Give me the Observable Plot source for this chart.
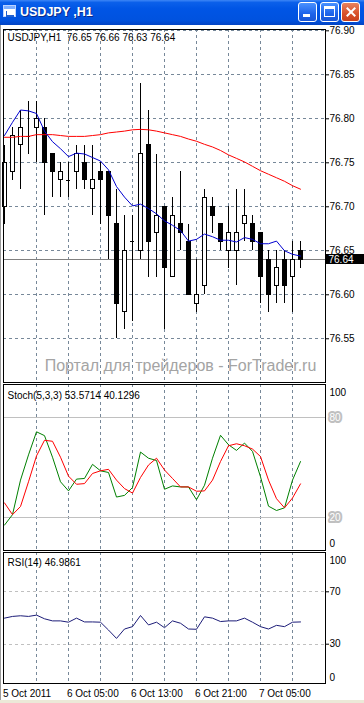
<!DOCTYPE html>
<html><head><meta charset="utf-8">
<script src="https://cdn.jsdelivr.net/npm/d3@7"></script>
<script src="https://cdn.jsdelivr.net/npm/@observablehq/plot@0.6"></script>
<style>
html,body{margin:0;padding:0;background:#fff;width:364px;height:703px;overflow:hidden;font-family:"Liberation Sans",Arial,sans-serif;}
#wrap{position:relative;width:364px;height:703px;}
#titlebar{position:absolute;left:0;top:0;width:364px;height:25px;background:linear-gradient(#3d86f6 0%,#0b60ea 10%,#0055e5 35%,#0052df 80%,#0344c4 100%);}
#ttl{position:absolute;left:20px;top:5px;color:#fff;font:bold 12.5px "Liberation Sans",Arial,sans-serif;text-shadow:1px 1px 0 #0a2a8a;white-space:pre;}
#icon{position:absolute;left:3px;top:5px;width:13px;height:12px;background:#fff;border:1px solid #bcd3ff;box-sizing:border-box;}
#icon .bar{position:absolute;left:0;top:0;width:11px;height:3px;background:#7fb0ff;}
#icon .c{position:absolute;left:2px;top:5px;width:7px;height:4px;border-bottom:2px solid #2060d0;border-left:1px solid #2060d0;}
.btn{position:absolute;top:2px;width:19px;height:20px;box-sizing:border-box;border:1px solid #fff;border-radius:3px;background:linear-gradient(#4a92ff,#1d63ea 60%,#1a56d6);}
#bmin{left:298px;} #bmax{left:320px;} #bcls{left:341px;background:linear-gradient(#e8835e,#d8502a 60%,#c8401c);}
#bmin i{position:absolute;left:4px;top:11px;width:7px;height:3px;background:#fff;}
#bmax i{position:absolute;left:3px;top:3px;width:11px;height:11px;box-sizing:border-box;border:1px solid #fff;border-top:3px solid #fff;}
#bcls i,#bcls b{position:absolute;left:8px;top:3px;width:2px;height:12px;background:#fff;}
#bcls i{transform:rotate(45deg);} #bcls b{transform:rotate(-45deg);}
#ledge{position:absolute;left:0;top:25px;width:1px;height:676px;background:#9a9a9a;}
#bstrip{position:absolute;left:0;top:700px;width:364px;height:3px;background:#ece9d8;}
svg{position:absolute;left:0;}
</style></head>
<body><div id="wrap">
<div id="titlebar"><div id="icon"><div class="bar"></div><div class="c"></div></div><div id="ttl">USDJPY ,H1</div>
<div class="btn" id="bmin"><i></i></div><div class="btn" id="bmax"><i></i></div><div class="btn" id="bcls"><i></i><b></b></div></div>
<div id="ledge"></div><div id="bstrip"></div>
</div>
<script>
// ---- data ----
const symbol = "USDJPY,H1";
const openP  = [76.70,76.74,76.77,76.78,76.79,76.79,76.76,76.73,76.73,76.74,76.75,76.72,76.74,76.74,76.68,76.58,76.66,76.65,76.77,76.67,76.70,76.62,76.68,76.66,76.59,76.61,76.70,76.68,76.65,76.65,76.68,76.68,76.67,76.64,76.61,76.64,76.62,76.65];
const highP  = [76.77,76.79,76.81,76.82,76.82,76.80,76.76,76.75,76.75,76.77,76.77,76.77,76.75,76.74,76.72,76.69,76.69,76.84,76.81,76.76,76.70,76.71,76.74,76.68,76.64,76.72,76.71,76.68,76.70,76.72,76.72,76.69,76.67,76.65,76.65,76.65,76.66,76.66];
const lowP   = [76.68,76.73,76.72,76.76,76.75,76.69,76.71,76.71,76.71,76.72,76.72,76.69,76.68,76.64,76.55,76.56,76.57,76.64,76.62,76.62,76.56,76.62,76.65,76.60,76.58,76.60,76.67,76.65,76.63,76.61,76.66,76.65,76.59,76.58,76.59,76.59,76.58,76.63];
const closeP = [76.75,76.78,76.79,76.78,76.80,76.75,76.74,76.74,76.73,76.76,76.73,76.73,76.73,76.69,76.59,76.65,76.66,76.76,76.66,76.69,76.63,76.69,76.67,76.60,76.60,76.71,76.69,76.66,76.67,76.67,76.69,76.66,76.62,76.60,76.63,76.61,76.64,76.64];
const maFast = [76.781,76.796,76.810,76.809,76.806,76.786,76.774,76.766,76.757,76.761,76.760,76.756,76.752,76.742,76.723,76.711,76.701,76.703,76.698,76.692,76.684,76.679,76.673,76.661,76.663,76.669,76.666,76.662,76.662,76.660,76.665,76.663,76.658,76.658,76.661,76.650,76.646,76.644];
const maSlow = [76.779,76.779,76.780,76.780,76.782,76.782,76.782,76.781,76.780,76.780,76.780,76.781,76.782,76.784,76.785,76.786,76.7875,76.788,76.7875,76.786,76.784,76.782,76.780,76.777,76.7745,76.771,76.768,76.764,76.759,76.755,76.751,76.746,76.741,76.737,76.733,76.729,76.724,76.720];
const stochMain   = [15.3,21.6,42.4,57.6,71.5,69.2,56.2,41.4,35.9,43.0,43.4,51.9,48.0,47.0,32.2,33.2,37.9,59.3,55.6,54.2,36.9,38.9,38.3,38.3,30.6,39.3,55.6,69.4,63.7,60.3,64.7,59.7,44.4,26.7,24.1,25.7,42.4,53.5714];
const stochSignal = [28.7,21.6,26.5,41.4,57.0,66.4,65.8,56.2,44.8,39.9,40.3,46.4,48.0,48.9,42.4,37.3,34.6,44.0,51.5,55.6,48.5,43.4,38.3,38.3,35.7,35.9,42.4,53.6,63.1,64.3,63.1,61.1,56.6,42.4,31.2,25.7,31.6,40.1296];
const rsi = [49.9,51.2,51.7,51.2,52.2,49.4,47.8,47.8,46.8,49.9,47.0,47.0,46.8,40.8,34.4,41.6,43.4,51.9,44.7,46.8,42.6,47.8,46.0,41.6,41.4,50.9,49.9,47.3,47.8,47.8,49.9,46.8,43.4,41.6,44.4,43.4,46.8,46.9861];
const priceTicks = [76.55,76.60,76.65,76.70,76.75,76.80,76.85,76.90];
const gridBars = [4,8,12,16,20,24,28,32,36];
const timeLabelBars = [0,8,16,24,32];
const timeLabels = ["5 Oct 2011","6 Oct 05:00","6 Oct 13:00","6 Oct 21:00","7 Oct 05:00"];
const stochLevels = [80,20];
const rsiLevels = [70,30];
const stochTitle = "Stoch(5,3,3) 53.5714 40.1296";
const rsiTitle = "RSI(14) 46.9861";
const watermark = "Портал для трейдеров - ForTrader.ru";

// ---- build ----
const bars = d3.range(openP.length);
const candles = bars.map(i => ({i, open: openP[i], high: highP[i], low: lowP[i], close: closeP[i]}));
const last = candles[candles.length - 1];
const header = `${symbol}  ${last.open.toFixed(2)} ${last.high.toFixed(2)} ${last.low.toFixed(2)} ${last.close.toFixed(2)}`;
const xDomain = [-0.125, 40.125];
const grid = {stroke: "#778899", strokeDasharray: "3,3"};
const crisp = {shapeRendering: "crispEdges"};
const base = {width: 364, marginLeft: 3, marginRight: 39,
  x: {domain: xDomain, axis: null},
  style: {fontFamily: '"Liberation Sans", Arial, sans-serif', fontSize: "10px", background: "transparent", overflow: "visible", color: "black", whiteSpace: "pre"}};
const bw = 0.25;
const lw = 1;

const mainPlot = Plot.plot({...base, height: 359, marginTop: 6, marginBottom: 0,
  y: {domain: [76.5003, 76.9015], axis: null},
  marks: [
    Plot.ruleY(priceTicks, {...grid, ...crisp}),
    Plot.ruleX(gridBars, {...grid, ...crisp}),
    Plot.text([watermark], {text: d => d, frameAnchor: "bottom", dx: 16, dy: -17, lineAnchor: "middle", fontSize: 16, fill: "#a4a4a4"}),
    Plot.ruleY([last.close], {stroke: "#808080", ...crisp}),
    Plot.ruleX(candles, {x: "i", y1: "low", y2: "high", stroke: "black", ...crisp}),
    Plot.rect(candles.filter(d => d.close > d.open), {x1: d => d.i - bw, x2: d => d.i + bw, y1: "open", y2: "close", fill: "white", stroke: "black", ...crisp}),
    Plot.rect(candles.filter(d => d.close < d.open), {x1: d => d.i - bw, x2: d => d.i + bw, y1: "open", y2: "close", fill: "black", stroke: "black", ...crisp}),
    Plot.ruleY(candles.filter(d => d.close === d.open), {y: "open", x1: d => d.i - bw, x2: d => d.i + bw, stroke: "black", ...crisp}),
    Plot.line(bars, {x: d => d, y: d => maSlow[d], stroke: "red", strokeWidth: lw}),
    Plot.line(bars, {x: d => d, y: d => maFast[d], stroke: "#0000d0", strokeWidth: lw}),
    Plot.frame({stroke: "black", ...crisp}),
    Plot.axisY({anchor: "right", ticks: priceTicks, tickFormat: d => d.toFixed(2), tickSize: 3, tickPadding: 1, label: null}),
    Plot.rect([last.close], {x1: xDomain[1], x2: xDomain[1] + 5, y1: d => d - 0.0058, y2: d => d + 0.0062, fill: "black", clip: false, ...crisp}),
    Plot.text([last.close], {y: d => d, text: d => d.toFixed(2), frameAnchor: "right", textAnchor: "start", dx: 3, fill: "white"}),
    Plot.text([header], {text: d => d, frameAnchor: "top-left", lineAnchor: "middle", dx: 4, dy: 8})
  ]});

const stochPlot = Plot.plot({...base, height: 170, marginTop: 4, marginBottom: 0,
  y: {domain: [0, 100], axis: null},
  marks: [
    Plot.ruleX(gridBars, {...grid, ...crisp}),
    Plot.ruleY(stochLevels, {stroke: "#c0c0c0", ...crisp}),
    Plot.line(bars, {x: d => d, y: d => stochMain[d], stroke: "#008000", strokeWidth: lw}),
    Plot.line(bars, {x: d => d, y: d => stochSignal[d], stroke: "red", strokeWidth: lw}),
    Plot.frame({stroke: "black", ...crisp}),
    Plot.text(stochLevels, {y: d => d, text: d => String(d), frameAnchor: "right", textAnchor: "start", dx: 4, fill: "white", stroke: "#c0c0c0", strokeWidth: 4, paintOrder: "stroke"}),
    Plot.text([100], {y: d => d, text: d => String(d), frameAnchor: "right", textAnchor: "start", dx: 4, dy: 8}),
    Plot.text([0], {y: d => d, text: d => String(d), frameAnchor: "right", textAnchor: "start", dx: 4, dy: -7}),
    Plot.text([stochTitle], {text: d => d, frameAnchor: "top-left", lineAnchor: "middle", dx: 4, dy: 11})
  ]});

const rsiPlot = Plot.plot({...base, height: 152, marginTop: 4, marginBottom: 17,
  y: {domain: [0, 100], axis: null},
  marks: [
    Plot.ruleX(gridBars, {...grid, ...crisp}),
    Plot.ruleY(rsiLevels, {stroke: "#c0c0c0", strokeDasharray: "3,3", ...crisp}),
    Plot.line(bars, {x: d => d, y: d => rsi[d], stroke: "#1c1c78", strokeWidth: lw}),
    Plot.frame({stroke: "black", ...crisp}),
    Plot.axisY({anchor: "right", ticks: rsiLevels, tickSize: 3, tickPadding: 1, label: null}),
    Plot.text([100], {y: d => d, text: d => String(d), frameAnchor: "right", textAnchor: "start", dx: 4, dy: 8}),
    Plot.text([0], {y: d => d, text: d => String(d), frameAnchor: "right", textAnchor: "start", dx: 4, dy: -6}),
    Plot.text([rsiTitle], {text: d => d, frameAnchor: "top-left", lineAnchor: "middle", dx: 4, dy: 10}),
    Plot.text(timeLabelBars, {x: d => d, text: (d, i) => timeLabels[i], frameAnchor: "bottom", textAnchor: "start", lineAnchor: "middle", dx: -1.5, dy: 10})
  ]});

const wrap = document.getElementById("wrap");
[[mainPlot, 23], [stochPlot, 380], [rsiPlot, 548]].forEach(([svg, top]) => {
  svg.style.position = "absolute";
  svg.style.left = "0px";
  svg.style.top = top + "px";
  wrap.appendChild(svg);
});
wrap.appendChild(document.getElementById("titlebar"));
</script>
</body></html>
